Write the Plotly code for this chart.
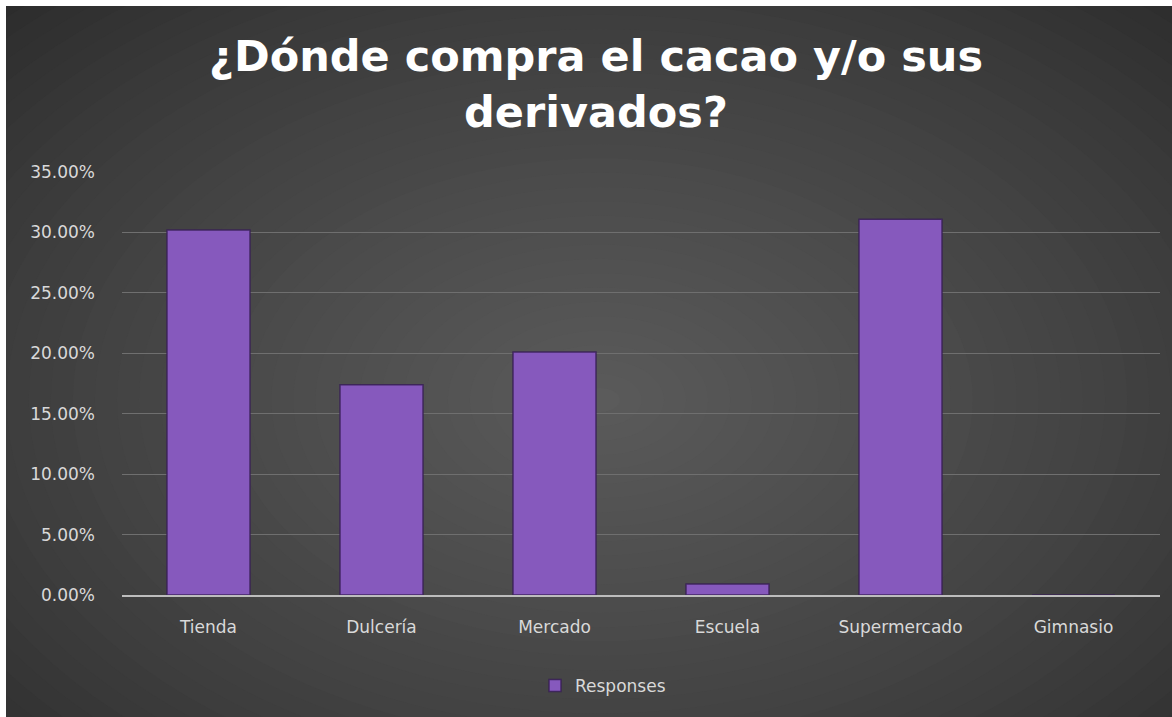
import plotly.graph_objects as go

# Survey data: where people buy cacao and its derivatives (% of responses)
categories = ["Tienda", "Dulcería", "Mercado", "Escuela", "Supermercado", "Gimnasio"]
responses = [30.2, 17.4, 20.1, 0.9, 31.1, 0.0]
tick_values = [0, 5, 10, 15, 20, 25, 30, 35]
tick_labels = ["0.00%", "5.00%", "10.00%", "15.00%", "20.00%", "25.00%", "30.00%", "35.00%"]

W, H = 1172, 717
L, R, T, B = 122, 12, 172, 122  # plot margins in px
PW, PH = W - L - R, H - T - B


def px_x(p):
    return (p - L) / PW


def px_y(p):
    return (H - B - p) / PH


fig = go.Figure()
fig.add_trace(go.Bar(
    x=categories,
    y=responses,
    name="Responses",
    marker=dict(color="#8659bd", line=dict(color="rgba(55,30,85,0.85)", width=1.5)),
    width=0.48,
))

shapes = []
# dark radial backdrop built from stacked ellipses
cx, cy = 600, 400
n = 40
c0 = (0x2a, 0x2a, 0x2a)
c1 = (0x5b, 0x5b, 0x5b)
shapes.append(dict(type="rect", xref="paper", yref="paper", x0=px_x(0), x1=px_x(W), y0=px_y(H), y1=px_y(0),
                   fillcolor="rgb(%d,%d,%d)" % c0, line_width=0, layer="below"))
for i in range(n):
    f = i / (n - 1)
    rx = 860 * (1 - f) + 20
    ry = 560 * (1 - f) + 12
    col = tuple(int(c0[k] + (c1[k] - c0[k]) * (f ** 0.8)) for k in range(3))
    shapes.append(dict(type="circle", xref="paper", yref="paper",
                       x0=px_x(cx - rx), x1=px_x(cx + rx), y0=px_y(cy + ry), y1=px_y(cy - ry),
                       fillcolor="rgb(%d,%d,%d)" % col, line_width=0, layer="below"))
# white frame strips at top and left edges
shapes.append(dict(type="rect", xref="paper", yref="paper", x0=px_x(0), x1=px_x(W), y0=px_y(6), y1=px_y(-2),
                   fillcolor="white", line_width=0, layer="above"))
shapes.append(dict(type="rect", xref="paper", yref="paper", x0=px_x(-2), x1=px_x(6), y0=px_y(H + 2), y1=px_y(-2),
                   fillcolor="white", line_width=0, layer="above"))

tick_font = dict(family="DejaVu Sans", size=17, color="#d9d9d9")

fig.update_layout(
    width=W, height=H,
    margin=dict(l=L, r=R, t=T, b=B),
    paper_bgcolor="#2a2a2a",
    plot_bgcolor="rgba(0,0,0,0)",
    shapes=shapes,
    bargap=0.52,
    title=dict(
        text="¿Dónde compra el cacao y/o sus<br>derivados?",
        font=dict(family="DejaVu Sans", size=43, color="white", weight="bold"),
        x=596 / W, xanchor="center", xref="container",
        y=1 - 71 / H, yanchor="top", yref="container",
    ),
    xaxis=dict(
        showgrid=False,
        showline=True, linecolor="#bdbdbd", linewidth=2,
        tickfont=tick_font, ticks="", ticklabelstandoff=16,
    ),
    yaxis=dict(
        range=[0, 35],
        tickvals=tick_values,
        ticktext=tick_labels,
        showgrid=True, gridcolor="#6f6f6f", gridwidth=1,
        zeroline=False,
        tickfont=tick_font, ticklabelstandoff=26,
    ),
    showlegend=True,
    legend=dict(
        orientation="h",
        x=px_x(603), xanchor="center",
        y=px_y(686), yanchor="middle",
        font=tick_font,
        bgcolor="rgba(0,0,0,0)",
    ),
)

fig.write_html("out.html")
